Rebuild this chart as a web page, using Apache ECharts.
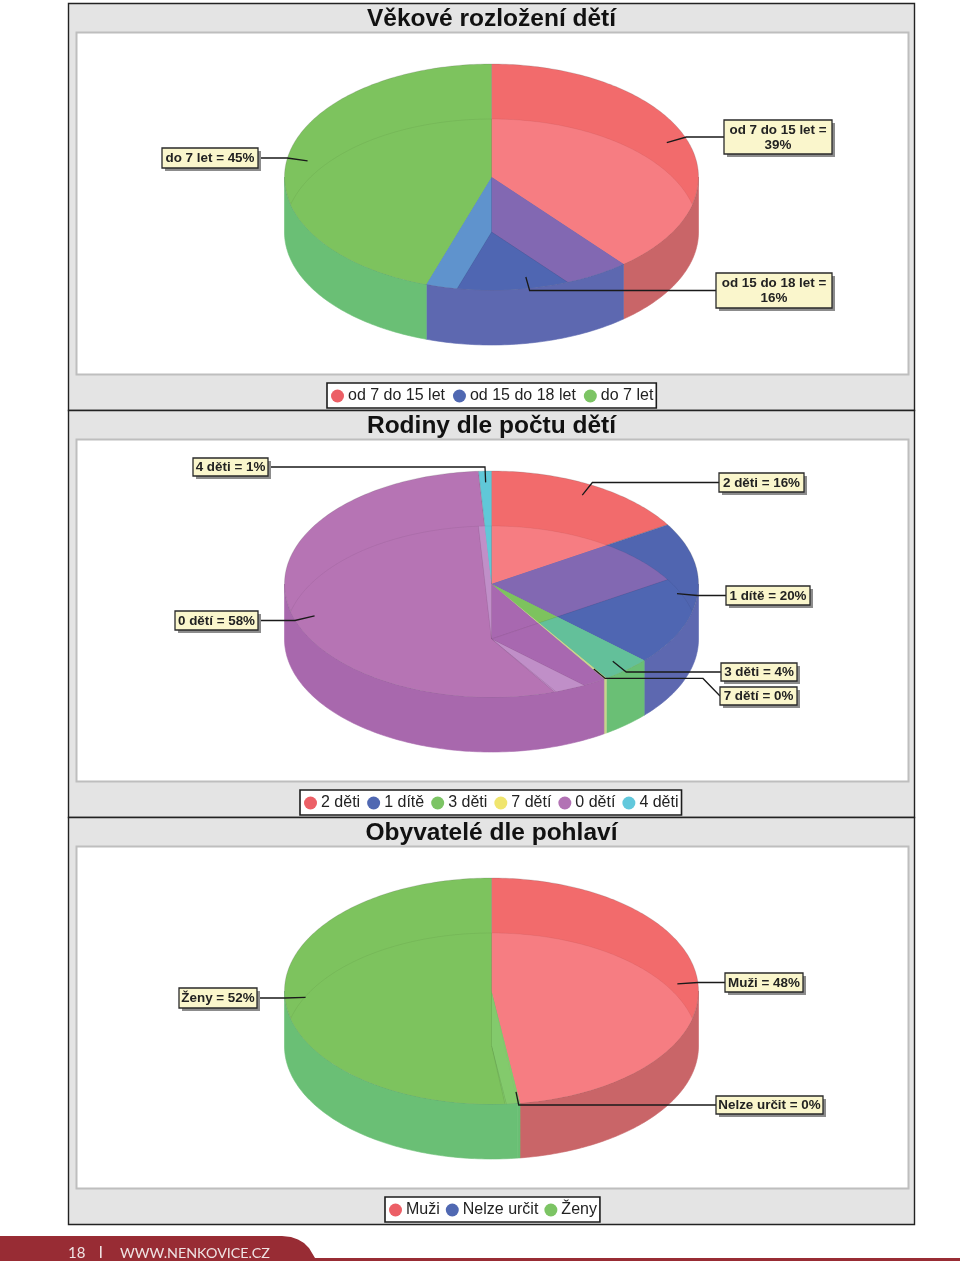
<!DOCTYPE html>
<html><head><meta charset="utf-8">
<style>html,body{margin:0;padding:0;background:#fff}#c{width:960px;height:1261px}</style>
<script src="https://cdn.jsdelivr.net/npm/echarts@6/dist/echarts.min.js"></script>
</head><body><div id="c"></div>
<script>
// ---- data ----
const ageTitle = 'Věkové rozložení dětí';
const ageCategories = ['od 7 do 15 let', 'od 15 do 18 let', 'do 7 let'];
const ageValues = [39, 16.1, 44.9];
const ageShown = [39, 16, 45];

const familyTitle = 'Rodiny dle počtu dětí';
const familyCategories = ['2 děti', '1 dítě', '3 děti', '7 dětí', '0 dětí', '4 děti'];
const familyValues = [16.2, 20.6, 3.84, 0.22, 58.14, 1.0];
const familyShown = [16, 20, 4, 0, 58, 1];

const genderTitle = 'Obyvatelé dle pohlaví';
const genderCategories = ['Muži', 'Nelze určit', 'Ženy'];
const genderValues = [47.8, 0.2, 52];
const genderShown = [48, 0, 52];

// ---- styles and layout ----
const LEGEND = {R:'#EC5F66', B:'#5068B2', N:'#5068B2', G:'#7CC464', Y:'#F0E56E', P:'#B272B4', C:'#62C8DC'};
const TOP  = {R:'#F26B6C', B:'#5065B0', N:'#83CA6C', G:'#7DC35E', Y:'#C8D48E', P:'#B674B4', C:'#60C8D8'};
const WALL = {R:'#C96568', B:'#5D68B0', N:'#6ABF75', G:'#6ABF75', Y:'#C8D48E', P:'#A868AD', C:'#60C8D8'};
const MIX_COMMON = {RR:'#F67D82', RN:'#F67D82', RB:'#F67D82', RY:'#F67D82', BR:'#8268B2', BB:'#4F66B2', BG:'#5F93CD',
  GB:'#63C09A', PR:'#A868B0', PB:'#A868B0', PG:'#C08FC8', PY:'#C08FC8', PC:'#C08FC8', CP:'#C08FC8', CC:'#60C8D8'};
const RX = 207, RY = 113, DEPTH = 55, CX = 491.5;

const panels = [
 { title: ageTitle, top: 3, cats: ageCategories, vals: ageValues, shown: ageShown, codes: ['R','B','G'], mix: {},
   cy: 177, titleY: 7, legend: {left:327, top:383, gap:8},
   boxes: [{x:724,y:120,w:108,h:34,br:true},{x:716,y:273,w:116,h:35,br:true},{x:162,y:148,w:96,h:20}] },
 { title: familyTitle, top: 410, cats: familyCategories, vals: familyValues, shown: familyShown, codes: ['R','B','G','Y','P','C'], mix: {},
   cy: 584, titleY: 414, legend: {left:300, top:790, gap:7},
   boxes: [{x:719,y:473,w:85,h:19},{x:726,y:586,w:84,h:19},{x:721,y:663,w:76,h:18},{x:720,y:687,w:77,h:18,kink:703},{x:175,y:611,w:83,h:19},{x:193,y:458,w:75,h:18}] },
 { title: genderTitle, top: 817, cats: genderCategories, vals: genderValues, shown: genderShown, codes: ['R','N','G'], mix: {GR:'#83CA6C', GN:'#83CA6C'},
   cy: 991, titleY: 821, legend: {left:385, top:1197, gap:6},
   boxes: [{x:725,y:973,w:78,h:19},{x:716,y:1096,w:107,h:18},{x:179,y:988,w:78,h:20}] }
];

// ---- geometry from the values ----
function pt(cy, deg, r) {
  const a = deg * Math.PI / 180;
  return [CX + RX * r * Math.sin(a), cy - RY * r * Math.cos(a)];
}
function arc(cy, a, b) {
  const pts = [], n = Math.max(2, Math.ceil(Math.abs(b - a)));
  for (let k = 0; k <= n; k++) pts.push(pt(cy, a + (b - a) * k / n, 1));
  return pts;
}
function wedge(cy, a, b) { return [[CX, cy]].concat(arc(cy, a, b)); }

const series = [], legends = [], titles = [], graphics = [];

panels.forEach(function (p, pi) {
  const total = p.vals.reduce(function (s, v) { return s + v; }, 0);
  let acc = 0;
  const angles = p.vals.map(function (v) { const a = acc; acc += v; return [a / total * 360, acc / total * 360]; });

  p.cats.forEach(function (cat, i) {
    series.push({
      type: 'custom', name: cat, coordinateSystem: 'none', silent: true, animation: false,
      itemStyle: {color: LEGEND[p.codes[i]]},
      data: [p.vals[i]],
      renderItem: function () {
        const [a, b] = angles[i], code = p.codes[i], kids = [];
        // outer wall: only the front half of the rim can be seen
        const wa = Math.max(a, 90), wb = Math.min(b, 270);
        if (wb > wa) kids.push({type:'polygon', z2:1,
          shape:{points: arc(p.cy, wa, wb).concat(arc(p.cy + DEPTH, wb, wa))},
          style:{fill: WALL[code], stroke: WALL[code], lineWidth: 0.6}});
        // top face
        const topPts = wedge(p.cy, a, b);
        kids.push({type:'polygon', z2:2, shape:{points: topPts},
          style:{fill: TOP[code], stroke: 'rgba(90,90,90,0.2)', lineWidth: 1}});
        // bottom faces seen through this top face
        angles.forEach(function (ang, j) {
          const key = code + p.codes[j];
          const fill = p.mix[key] || MIX_COMMON[key] || TOP[code];
          kids.push({type:'polygon', z2:3,
            shape:{points: wedge(p.cy + DEPTH, ang[0], ang[1])},
            style:{fill: fill, stroke: 'rgba(0,0,0,0.05)', lineWidth: 1},
            clipPath:{type:'polygon', shape:{points: topPts}}});
        });
        // callout
        const box = p.boxes[i], mid = (a + b) / 2, bcy = box.y + box.h / 2;
        const inner = pt(p.cy, mid, 0.9), el = pt(p.cy, mid, 1);
        const right = box.x > CX;
        const edge = right ? box.x : box.x + box.w;
        let line;
        if (box.kink) line = [inner, [el[0], el[1]], [box.kink, el[1]], [edge, bcy]];
        else line = [inner, [el[0], bcy], [edge, bcy]];
        kids.push({type:'polyline', z2:6, shape:{points: line}, style:{fill:'none', stroke:'#1a1a1a', lineWidth:1.3}});
        kids.push({type:'rect', z2:7, shape:{x:box.x+3, y:box.y+3, width:box.w, height:box.h}, style:{fill:'#8c8c8c'}});
        kids.push({type:'rect', z2:8, shape:{x:box.x, y:box.y, width:box.w, height:box.h},
          style:{fill:'#FAF6CC', stroke:'#2a2a2a', lineWidth:1.3}});
        const txt = cat + ' =' + (box.br ? '\n' : ' ') + p.shown[i] + '%';
        kids.push({type:'text', z2:9, style:{x: box.x + box.w/2, y: bcy + 0.5, text: txt, align:'center', verticalAlign:'middle',
          font:'bold 13.4px "Liberation Sans"', fill:'#222', lineHeight:15}});
        return {type:'group', children: kids};
      }
    });
  });

  legends.push({
    left: p.legend.left, top: p.legend.top, orient:'horizontal', selectedMode:false,
    data: p.cats, icon:'circle', itemWidth:13, itemHeight:13, itemGap:p.legend.gap,
    backgroundColor:'#fff', borderColor:'#1c1c1c', borderWidth:1.6, borderRadius:0, padding:[5,3,4,4],
    textStyle:{fontFamily:'Liberation Sans', fontSize:16, color:'#222', padding:[4,0,0,-1]}
  });
  titles.push({
    text: p.title, left: CX, top: p.titleY, textAlign:'center', padding:0,
    textStyle:{fontFamily:'Liberation Sans', fontWeight:'bold', fontSize:24.5, color:'#111'}
  });
  // panel frame
  graphics.push({type:'rect', z:-2, shape:{x:68.5, y:p.top+0.5, width:846, height:407}, style:{fill:'#E4E4E4', stroke:'#222', lineWidth:1.4}});
  graphics.push({type:'rect', z:-1, shape:{x:76.5, y:p.top+29.5, width:832, height:342}, style:{fill:'#fff', stroke:'#BEBEBE', lineWidth:2}});
});

// footer band
graphics.push({type:'polygon', z:-1, shape:{points:[[0,1236],[282,1236],[291,1237],[298,1239.5],[304,1243],[309,1248],[315,1258],[960,1258],[960,1261],[0,1261]]}, style:{fill:'#982C34'}});
graphics.push({type:'text', z:1, style:{x:68, y:1253, text:'18', verticalAlign:'middle', font:'15px Lato', fill:'#EFE3E3'}});
graphics.push({type:'rect', z:1, shape:{x:100, y:1246, width:1.6, height:12}, style:{fill:'#EFE3E3'}});
graphics.push({type:'text', z:1, style:{x:120, y:1253, text:'WWW.NENKOVICE.CZ', verticalAlign:'middle', font:'14.3px Lato', fill:'#EFE3E3'}});

const chart = echarts.init(document.getElementById('c'), null, {renderer:'canvas', width:960, height:1261});
chart.setOption({animation:false, backgroundColor:'#fff', title:titles, legend:legends, series:series, graphic:{elements:graphics}, tooltip:{show:false}});
</script></body></html>
